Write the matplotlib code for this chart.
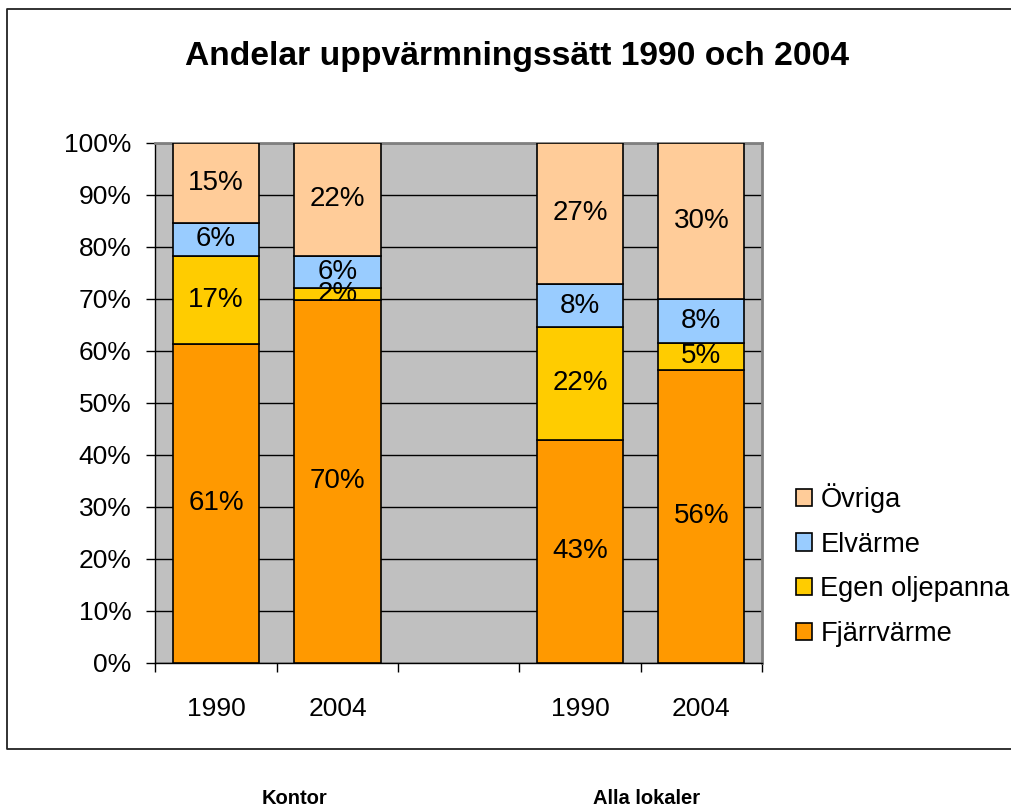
import matplotlib
matplotlib.use("Agg")
import matplotlib.pyplot as plt
from matplotlib.lines import Line2D
from matplotlib.patches import Patch
from matplotlib.ticker import FixedLocator, FuncFormatter

# data (andelar i procent)
groups = ["Kontor", "Alla lokaler"]
bar_years = ["1990", "2004", "1990", "2004"]
series = ["Fjärrvärme", "Egen oljepanna", "Elvärme", "Övriga"]
fjarrvarme = [61.3, 69.7, 42.9, 56.3]
egen_oljepanna = [16.9, 2.4, 21.6, 5.2]
elvarme = [6.4, 6.1, 8.3, 8.4]
ovriga = [15.4, 21.8, 27.2, 30.1]
colors = ["#FF9900", "#FFCC00", "#99CCFF", "#FFCC99"]

bar_pos = [0, 1, 3, 4]  # tom plats mellan grupperna
W, H = 1012, 806

plt.rcParams["font.family"] = ["Liberation Sans", "DejaVu Sans"]

fig = plt.figure(figsize=(W / 100, H / 100), dpi=100)
ax = fig.add_axes([155.5 / W, 1 - 662.5 / H, (762 - 155.5) / W, (662.5 - 142.7) / H])
ax.set_facecolor("#C0C0C0")

values = [fjarrvarme, egen_oljepanna, elvarme, ovriga]
bottoms = [0.0] * len(bar_pos)
for vals, col in zip(values, colors):
    ax.bar(bar_pos, vals, bottom=bottoms, width=0.71, color=col,
           edgecolor="black", linewidth=1.2, zorder=3)
    for x, b, v in zip(bar_pos, bottoms, vals):
        ax.text(x, b + v / 2, f"{v:.0f}%", ha="center", va="center",
                fontsize=20, zorder=4)
    bottoms = [b + v for b, v in zip(bottoms, vals)]

ax.set_xlim(-0.5, 4.5)
ax.set_ylim(0, 100)

# y-axel
ax.set_yticks(range(0, 101, 10))
ax.yaxis.set_major_formatter(FuncFormatter(lambda v, p: f"{v:.0f}%"))
ax.tick_params(axis="y", direction="out", length=6.7, width=1, pad=10.6,
               labelsize=19)
ax.yaxis.grid(True, color="black", linewidth=1, zorder=0)
ax.set_axisbelow(True)

# x-axel: streck mellan staplarna, årtal i mitten
ax.xaxis.set_major_locator(FixedLocator([i - 0.5 for i in range(6)]))
ax.xaxis.set_major_formatter(FuncFormatter(lambda v, p: ""))
year_labels = ["", "", "", "", ""]
for x, y in zip(bar_pos, bar_years):
    year_labels[x] = y
ax.xaxis.set_minor_locator(FixedLocator(range(5)))
ax.set_xticklabels(year_labels, minor=True)
ax.tick_params(axis="x", which="major", direction="out", length=6.7, width=1)
ax.tick_params(axis="x", which="minor", length=0, pad=24.5, labelsize=19)

for s in ["left", "bottom"]:
    ax.spines[s].set_color("black")
    ax.spines[s].set_linewidth(1)
for s in ["top", "right"]:
    ax.spines[s].set_color("#808080")
    ax.spines[s].set_linewidth(2)

# titel och grupp-etiketter
fig.text(517 / W, 1 - 65 / H, "Andelar uppvärmningssätt 1990 och 2004",
         ha="center", va="baseline", fontsize=24.2, fontweight="bold")
fig.text(294.5 / W, 1 - 798 / H, groups[0], ha="center", va="center",
         fontsize=14.5, fontweight="bold")
fig.text(646.7 / W, 1 - 798 / H, groups[1], ha="center", va="center",
         fontsize=14.5, fontweight="bold")

# legend, omvänd ordning
handles = [Patch(facecolor=c, edgecolor="black", linewidth=1.2) for c in colors]
fig.legend(handles[::-1], series[::-1], loc="upper left",
           bbox_to_anchor=(796 / W, 1 - 483 / H), frameon=False, fontsize=19.6,
           handlelength=0.6, handleheight=0.6, handletextpad=0.3,
           labelspacing=0.69, borderpad=0, borderaxespad=0)

# ram runt diagrammet (höger kant ligger utanför bilden)
x0, x1 = 7.5 / W, 1.05
y0, y1 = 1 - 749 / H, 1 - 9 / H
fig.lines.append(Line2D([x1, x0, x0, x1], [y1, y1, y0, y0],
                        transform=fig.transFigure, color="#222222",
                        linewidth=1.3))

fig.savefig("out.png", dpi=100)
